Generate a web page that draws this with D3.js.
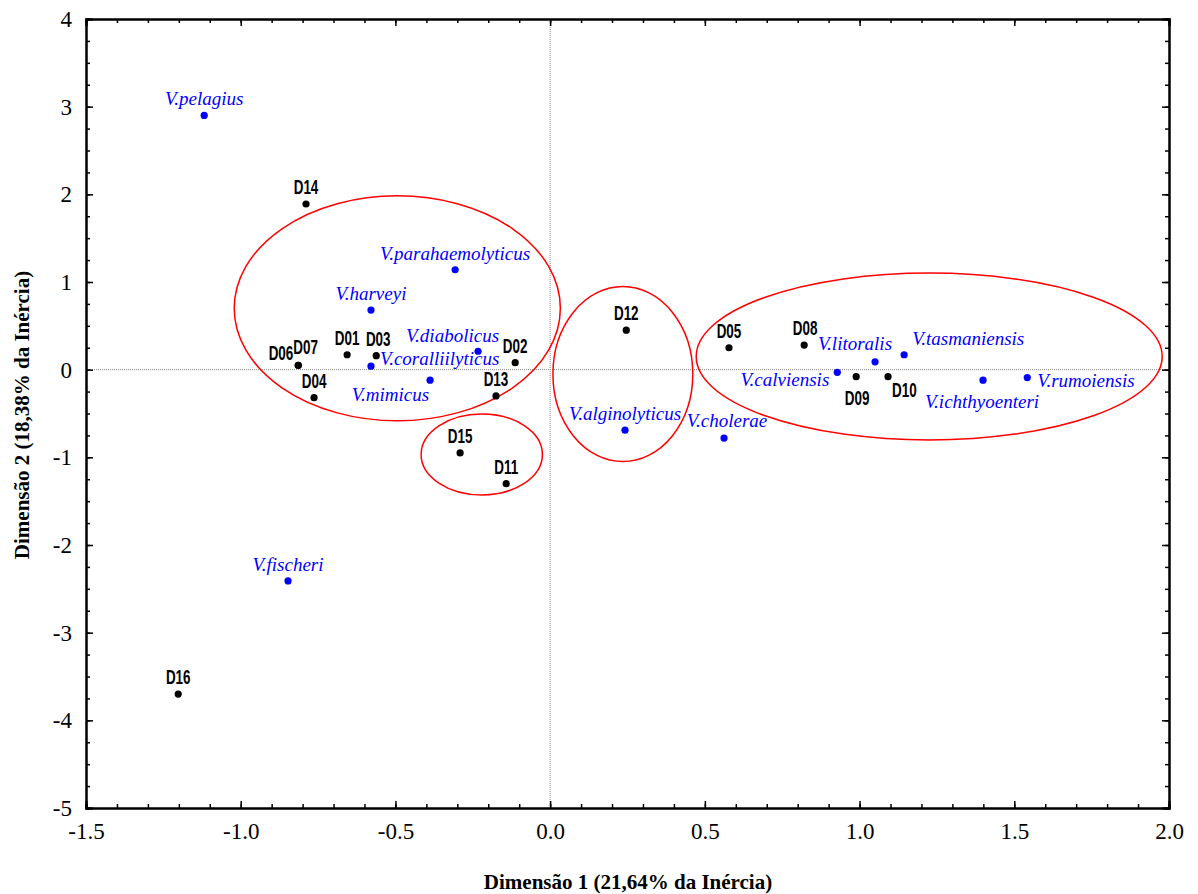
<!doctype html>
<html>
<head>
<meta charset="utf-8">
<style>
    body { margin: 0; background: #fff; }
</style>
<script src="https://d3js.org/d3.v7.min.js"></script>
</head>
<body>
<svg width="1198" height="894"></svg>
<script>

    // samples (black points)
    var samples = ["D01","D02","D03","D04","D05","D06","D07","D08","D09","D10","D11","D12","D13","D14","D15","D16"];
    var sampleX = [-0.656, -0.113, -0.562, -0.763, 0.578, -0.814, -0.814, 0.821, 0.989, 1.092, -0.142, 0.246, -0.175, -0.789, -0.291, -1.202];
    var sampleY = [0.17, 0.08, 0.16, -0.32, 0.25, 0.05, 0.05, 0.28, -0.08, -0.08, -1.30, 0.45, -0.30, 1.89, -0.95, -3.70];

    // species (blue points)
    var species = ["V.pelagius","V.parahaemolyticus","V.harveyi","V.diabolicus","V.coralliilyticus","V.mimicus",
                   "V.alginolyticus","V.cholerae","V.calviensis","V.litoralis","V.tasmaniensis","V.ichthyoenteri",
                   "V.rumoiensis","V.fischeri"];
    var speciesX = [-1.118, -0.307, -0.579, -0.233, -0.579, -0.388, 0.242, 0.562, 0.928, 1.05, 1.144, 1.399, 1.542, -0.847];
    var speciesY = [2.90, 1.14, 0.68, 0.21, 0.04, -0.12, -0.69, -0.78, -0.03, 0.09, 0.17, -0.12, -0.09, -2.41];

    // groups drawn as ellipses: centre and radii in data units
    var groupCX = [-0.494, -0.221, 0.235, 1.225];
    var groupCY = [0.70, -0.967, -0.05, 0.15];
    var groupRX = [0.527, 0.196, 0.226, 0.753];
    var groupRY = [1.283, 0.462, 0.998, 0.952];

    var xTicks = [-1.5, -1.0, -0.5, 0.0, 0.5, 1.0, 1.5, 2.0];
    var yTicks = [4, 3, 2, 1, 0, -1, -2, -3, -4, -5];

    // label placement: anchor, dx, dy (pixels)
    var place = {
        "D06": ["end", -5, -5], "D07": ["start", -5, -11], "D01": ["middle", 0, -10], "D03": ["middle", 2, -10],
        "D09": ["middle", 1, 28], "D10": ["start", 4, 20], "D08": ["middle", 1, -10],
        "V.diabolicus": ["end", 21, -9], "V.coralliilyticus": ["start", 9, -1],
        "V.mimicus": ["end", -1, 21], "V.calviensis": ["end", -8, 14], "V.litoralis": ["end", 17, -12],
        "V.tasmaniensis": ["start", 8, -10], "V.ichthyoenteri": ["middle", -1, 28], "V.rumoiensis": ["start", 10, 9],
        "V.cholerae": ["middle", 3, -11]
    };

    var serif = "'Liberation Serif', 'Times New Roman', Times, serif";
    var sans = "'Liberation Sans', Arial, sans-serif";

    var svg = d3.select("svg"),
        pLeft = 86, pTop = 19, pRight = 1169, pBottom = 808;

    var x = d3.scaleLinear().domain([-1.5, 2.0]).range([pLeft, pRight]);
    var y = d3.scaleLinear().domain([-5, 4]).range([pBottom, pTop]);

    var fmtX = function(d) { return d3.format(".1f")(d).replace("\u2212", "-"); };
    var fmtY = function(d) { return d3.format("d")(d).replace("\u2212", "-"); };

    // zero lines
    svg.append("line").attr("x1", x(0)).attr("x2", x(0)).attr("y1", pTop).attr("y2", pBottom)
       .attr("stroke", "#888").attr("stroke-width", 1).attr("stroke-dasharray", "1,1");
    svg.append("line").attr("x1", pLeft).attr("x2", pRight).attr("y1", y(0)).attr("y2", y(0))
       .attr("stroke", "#888").attr("stroke-width", 1).attr("stroke-dasharray", "1,1");

    // ellipses
    svg.selectAll(".grp").data(groupCX).enter().append("ellipse")
       .attr("class", "grp")
       .attr("cx", function(d) { return x(d); })
       .attr("cy", function(d, i) { return y(groupCY[i]); })
       .attr("rx", function(d, i) { return x(groupRX[i]) - x(0); })
       .attr("ry", function(d, i) { return y(0) - y(groupRY[i]); })
       .attr("fill", "none").attr("stroke", "#ff0000").attr("stroke-width", 1.5);

    // axes with ticks pointing inward
    var xMinor = d3.range(-15, 21).map(function(v) { return v / 10; });
    var yMinor = d3.range(-20, 17).map(function(v) { return v / 4; });

    svg.append("g").attr("transform", "translate(0," + pBottom + ")")
       .call(d3.axisBottom(x).tickValues(xMinor).tickSize(-4).tickFormat(""));
    svg.append("g").attr("class", "lab").attr("transform", "translate(0," + pBottom + ")")
       .call(d3.axisBottom(x).tickValues(xTicks).tickSize(-7).tickPadding(15).tickFormat(fmtX));
    svg.append("g").attr("transform", "translate(0," + pTop + ")")
       .call(d3.axisTop(x).tickValues(xMinor).tickSize(-4).tickFormat(""));
    svg.append("g").attr("transform", "translate(0," + pTop + ")")
       .call(d3.axisTop(x).tickValues(xTicks).tickSize(-7).tickFormat(""));

    svg.append("g").attr("transform", "translate(" + pLeft + ",0)")
       .call(d3.axisLeft(y).tickValues(yMinor).tickSize(-4).tickFormat(""));
    svg.append("g").attr("class", "lab").attr("transform", "translate(" + pLeft + ",0)")
       .call(d3.axisLeft(y).tickValues(yTicks).tickSize(-7).tickPadding(14).tickFormat(fmtY));
    svg.append("g").attr("transform", "translate(" + pRight + ",0)")
       .call(d3.axisRight(y).tickValues(yMinor).tickSize(-4).tickFormat(""));
    svg.append("g").attr("transform", "translate(" + pRight + ",0)")
       .call(d3.axisRight(y).tickValues(yTicks).tickSize(-7).tickFormat(""));

    svg.selectAll(".domain").attr("stroke", "#000").attr("stroke-width", 2);
    svg.selectAll(".tick line").attr("stroke", "#000").attr("stroke-width", 1.5);
    svg.selectAll(".lab").attr("font-family", serif).attr("font-size", 23);
    svg.selectAll(".tick text").attr("fill", "#000");

    // axis titles
    svg.append("text").attr("x", 628).attr("y", 889)
       .attr("font-family", serif).attr("font-size", 21).attr("font-weight", "bold")
       .attr("text-anchor", "middle").text("Dimensão 1 (21,64% da Inércia)");
    svg.append("text")
       .attr("transform", "translate(29," + 415 + ") rotate(-90)")
       .attr("font-family", serif).attr("font-size", 21).attr("font-weight", "bold")
       .attr("text-anchor", "middle").text("Dimensão 2 (18,38% da Inércia)");

    function drawSet(names, xs, ys, color, font, size, weight, italic, squeeze) {
        var g = svg.append("g");
        g.selectAll("circle").data(names).enter().append("circle")
         .attr("cx", function(d, i) { return x(xs[i]); })
         .attr("cy", function(d, i) { return y(ys[i]); })
         .attr("r", 3.6).attr("fill", color);
        g.selectAll("text").data(names).enter().append("text")
         .attr("font-family", font).attr("font-size", size)
         .attr("font-weight", weight).attr("font-style", italic ? "italic" : "normal")
         .attr("fill", color)
         .attr("transform", function(d, i) {
             var px = x(xs[i]) + (place[d] ? place[d][1] : 0),
                 py = y(ys[i]) + (place[d] ? place[d][2] : -10);
             return "translate(" + px + "," + py + ") scale(" + squeeze + ",1)";
         })
         .attr("text-anchor", function(d) { return place[d] ? place[d][0] : "middle"; })
         .text(function(d) { return d; });
    }

    drawSet(samples, sampleX, sampleY, "#000", sans, 21, "bold", false, 0.64);
    drawSet(species, speciesX, speciesY, "#0000ff", serif, 19, "normal", true, 1);

</script>
</body>
</html>
